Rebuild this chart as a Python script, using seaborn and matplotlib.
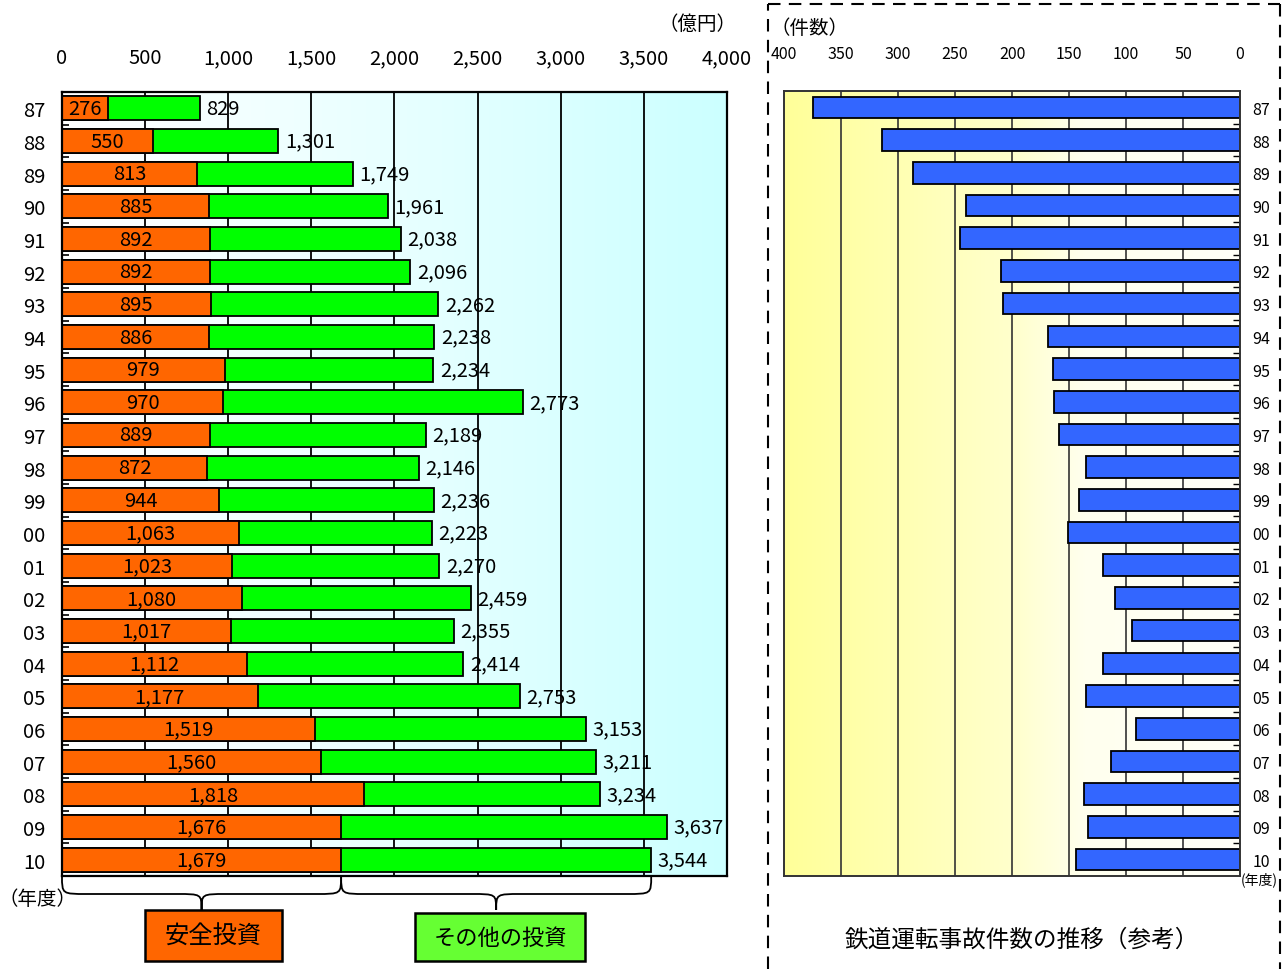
import numpy as np
import pandas as pd
import matplotlib
matplotlib.use("Agg")
import matplotlib.pyplot as plt
import matplotlib.transforms as mtransforms
from matplotlib.colors import LinearSegmentedColormap
from matplotlib.path import Path
from matplotlib.patches import PathPatch, Rectangle
from matplotlib.lines import Line2D
import seaborn as sns

# ---- data -------------------------------------------------------------
years = ["87", "88", "89", "90", "91", "92", "93", "94", "95", "96", "97", "98",
         "99", "00", "01", "02", "03", "04", "05", "06", "07", "08", "09", "10"]
safety_invest = [276, 550, 813, 885, 892, 892, 895, 886, 979, 970, 889, 872,
                 944, 1063, 1023, 1080, 1017, 1112, 1177, 1519, 1560, 1818, 1676, 1679]
total_invest = [829, 1301, 1749, 1961, 2038, 2096, 2262, 2238, 2234, 2773, 2189, 2146,
                2236, 2223, 2270, 2459, 2355, 2414, 2753, 3153, 3211, 3234, 3637, 3544]
accidents = [375, 314, 287, 240, 246, 210, 208, 168, 164, 163, 159, 135,
             141, 151, 120, 110, 95, 120, 135, 91, 113, 137, 133, 144]
invest_ticks = [0, 500, 1000, 1500, 2000, 2500, 3000, 3500, 4000]
accident_ticks = [400, 350, 300, 250, 200, 150, 100, 50, 0]

df = pd.DataFrame({"year": years, "safety": safety_invest,
                   "total": total_invest, "accidents": accidents})

sns.set_style("white")
plt.rcParams["font.family"] = ["Noto Sans CJK JP", "DejaVu Sans"]
plt.rcParams["text.color"] = "black"
plt.rcParams["xtick.color"] = "black"
plt.rcParams["ytick.color"] = "black"

W, H = 1287, 970
fig = plt.figure(figsize=(W / 100, H / 100), dpi=100)


def fig_rect(x0, y0, x1, y1):
    """pixel box (top-left origin) -> figure-fraction rect"""
    return [x0 / W, 1 - y1 / H, (x1 - x0) / W, (y1 - y0) / H]


ax = fig.add_axes(fig_rect(62, 93, 727, 877))
ax2 = fig.add_axes(fig_rect(784, 92, 1240, 877))

n = len(years)

# ---- left panel: investment ------------------------------------------
cyan_grad = LinearSegmentedColormap.from_list("cy", ["#FFFFFF", "#E8FFFF", "#CCFFFF"])
ax.imshow(np.linspace(0, 1, 256).reshape(1, -1), cmap=cyan_grad, aspect="auto",
          extent=(0, 1, 0, 1), transform=ax.transAxes, zorder=0)

sns.barplot(data=df, x="total", y="year", order=years, orient="h",
            color="#00FF00", saturation=1, edgecolor="black", linewidth=1.3,
            width=0.74, ax=ax, zorder=3)
sns.barplot(data=df, x="safety", y="year", order=years, orient="h",
            color="#FF6600", saturation=1, edgecolor="black", linewidth=1.3,
            width=0.74, ax=ax, zorder=4)

ax.set_xlim(0, 4000)
ax.set_ylim(n - 0.5, -0.5)
for xv in invest_ticks[1:-1]:
    ax.axvline(xv, color="black", lw=1.3, zorder=1)

for i, (s, t) in enumerate(zip(safety_invest, total_invest)):
    ax.text(s / 2, i, f"{s:,}", ha="center", va="center", fontsize=14.5, zorder=6)
    ax.text(t + 40, i, f"{t:,}", ha="left", va="center", fontsize=14.5, zorder=6)

ax.xaxis.tick_top()
ax.set_xticks(invest_ticks)
ax.set_xticklabels([f"{v:,}" for v in invest_ticks], fontsize=14.5)
ax.tick_params(axis="x", length=0, pad=17)
ax.set_yticks(range(n))
ax.set_yticklabels(years, fontsize=14.5)
ax.tick_params(axis="y", which="major", length=0, pad=12)
ax.set_yticks(np.arange(0.5, n - 0.5, 1), minor=True)
ax.tick_params(axis="y", which="minor", direction="in", length=5, width=1.2, left=True)
ax.set_xlabel("")
ax.set_ylabel("")
for sp in ax.spines.values():
    sp.set_visible(True)
    sp.set_linewidth(1.6)
    sp.set_color("black")
    sp.set_zorder(7)

# ---- right panel: accidents ------------------------------------------
yellow_grad = LinearSegmentedColormap.from_list(
    "yl", [(0, "#FFFF99"), (0.5, "#FFFFCC"), (0.66, "#FFFFEE"), (1, "#FFFFF8")])
ax2.imshow(np.linspace(0, 1, 256).reshape(1, -1), cmap=yellow_grad, aspect="auto",
           extent=(0, 1, 0, 1), transform=ax2.transAxes, zorder=0)

sns.barplot(data=df, x="accidents", y="year", order=years, orient="h",
            color="#3366FF", saturation=1, edgecolor="black", linewidth=1.3,
            width=0.66, ax=ax2, zorder=3)
ax2.set_xlim(400, 0)
ax2.set_ylim(n - 0.5, -0.5)
for xv in accident_ticks[1:-1]:
    ax2.axvline(xv, color="#333333", lw=1.2, zorder=1)

ax2.xaxis.tick_top()
ax2.set_xticks(accident_ticks)
ax2.set_xticklabels([str(v) for v in accident_ticks], fontsize=11.5)
ax2.tick_params(axis="x", length=0, pad=21)
ax2.yaxis.tick_right()
ax2.set_yticks(range(n))
ax2.set_yticklabels(years, fontsize=11.5)
ax2.tick_params(axis="y", which="major", length=0, pad=9, right=False, left=False)
ax2.set_yticks(np.arange(0.5, n - 0.5, 1), minor=True)
ax2.tick_params(axis="y", which="minor", direction="in", length=5, width=1.0,
                right=True, left=False)
ax2.set_xlabel("")
ax2.set_ylabel("")
for sp in ax2.spines.values():
    sp.set_visible(True)
    sp.set_linewidth(1.4)
    sp.set_color("#333333")
    sp.set_zorder(7)

# ---- braces under the last year's bar ---------------------------------
brace_tf = mtransforms.blended_transform_factory(ax.transData, fig.transFigure)


def brace(x0, x1, y_top, y_mid, y_tip, r):
    xm = (x0 + x1) / 2
    verts = [
        (x0, y_top),
        (x0, y_mid), (x0, y_mid), (x0 + r, y_mid),
        (xm - r, y_mid),
        (xm, y_mid), (xm, y_mid), (xm, y_tip),
        (xm, y_mid), (xm, y_mid), (xm + r, y_mid),
        (x1 - r, y_mid),
        (x1, y_mid), (x1, y_mid), (x1, y_top),
    ]
    codes = [Path.MOVETO,
             Path.CURVE4, Path.CURVE4, Path.CURVE4,
             Path.LINETO,
             Path.CURVE4, Path.CURVE4, Path.CURVE4,
             Path.CURVE4, Path.CURVE4, Path.CURVE4,
             Path.LINETO,
             Path.CURVE4, Path.CURVE4, Path.CURVE4]
    fig.add_artist(PathPatch(Path(verts, codes), transform=brace_tf,
                             fill=False, lw=1.3, color="black", clip_on=False))
    return xm


y_top = 1 - 877 / H
y_mid = 1 - 895 / H
y_tip = 1 - 911 / H
last_safety = safety_invest[-1]
last_total = total_invest[-1]
xm1 = brace(0, last_safety, y_top, y_mid, y_tip, 150)
xm2 = brace(last_safety, last_total, y_top, y_mid, y_tip, 150)


def legend_box(xc, width_px, y0, y1, face, label, fs):
    px = ax.transData.transform((xc, 0))[0]
    fig.add_artist(Rectangle(((px - width_px / 2) / W, 1 - y1 / H),
                             width_px / W, (y1 - y0) / H, transform=fig.transFigure,
                             facecolor=face, edgecolor="black", lw=1.8))
    fig.text(px / W, 1 - (y0 + y1) / 2 / H, label, ha="center", va="center",
             fontsize=fs)


legend_box(xm1 + 70, 137, 911, 962, "#FF6600", "安全投資", 17.5)
legend_box(xm2 + 25, 170, 914, 962, "#66FF33", "その他の投資", 16)

# ---- annotations -----------------------------------------------------
fig.text(698 / W, 1 - 24 / H, "（億円）", ha="center", va="center", fontsize=14)
fig.text(38 / W, 1 - 900 / H, "（年度）", ha="center", va="center", fontsize=14)
fig.text(810 / W, 1 - 28 / H, "（件数）", ha="center", va="center", fontsize=14)
fig.text(1259 / W, 1 - 880 / H, "(年度)", ha="center", va="center", fontsize=10)
fig.text(1022 / W, 1 - 940 / H, "鉄道運転事故件数の推移（参考）",
         ha="center", va="center", fontsize=17)

# dashed frame around the reference panel
dash = dict(color="black", lw=1.5, linestyle=(0, (6, 4)), transform=fig.transFigure)
fig.add_artist(Line2D([768 / W, 768 / W], [0, 1 - 5 / H], **dash))
fig.add_artist(Line2D([768 / W, 1280 / W], [1 - 5 / H, 1 - 5 / H], **dash))
fig.add_artist(Line2D([1280 / W, 1280 / W], [1 - 5 / H, 0], **dash))

fig.savefig("out.png", dpi=100, facecolor="white")
